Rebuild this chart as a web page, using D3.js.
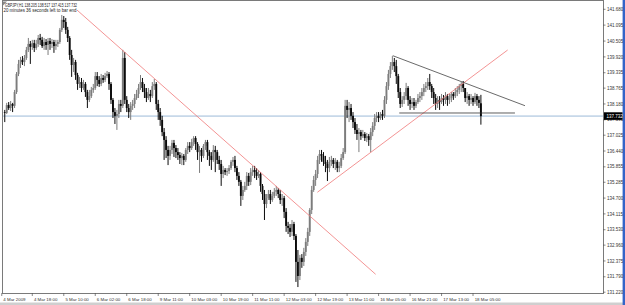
<!DOCTYPE html>
<html>
<head>
<meta charset="utf-8">
<script src="https://cdn.jsdelivr.net/npm/d3@7"></script>
<style>
  body { margin: 0; background: #fff; }
  svg { display: block; font-family: "Liberation Sans", Arial, sans-serif; }
</style>
</head>
<body>
<svg id="chart" width="625" height="305"></svg>
<script>
// GBPJPY H1, 4 Mar 2009 - 18 Mar 2009
const symbol = "GBPJPY,H1";
const timerText = "20 minutes 36 seconds left to bar end";

const opens = [
  137.88,137.85,138.14,138.03,138.18,138.11,138.62,139.29,139.66,139.81,
  139.73,139.88,140.18,140.40,140.29,140.43,140.25,140.40,140.62,140.55,
  140.32,140.47,140.36,140.51,140.40,140.47,140.32,140.40,140.47,140.92,
  141.29,141.21,140.92,140.62,139.99,139.62,139.73,139.25,138.92,138.99,
  138.77,138.92,138.62,138.33,138.47,138.70,138.77,139.21,139.07,138.92,
  139.14,139.07,139.21,139.29,138.92,138.33,137.88,137.74,137.81,138.18,
  138.11,139.88,138.33,138.03,137.88,138.11,138.18,138.40,138.55,138.77,
  138.99,138.77,138.62,138.40,138.55,138.47,138.84,138.92,138.18,137.88,
  137.59,137.14,136.85,136.48,136.26,136.48,136.74,136.55,136.40,136.29,
  136.18,136.26,136.11,136.48,136.63,136.55,136.77,136.92,136.70,136.40,
  136.48,136.26,136.63,136.77,136.40,136.26,136.11,136.48,136.40,136.11,
  135.96,135.59,135.74,135.66,135.70,135.81,136.04,136.11,135.81,135.52,
  135.30,134.78,135.00,135.15,135.52,135.30,135.66,135.74,135.66,135.52,
  135.59,135.15,134.85,134.48,134.70,134.85,134.63,134.78,134.93,135.00,
  134.85,134.63,134.70,134.19,133.67,133.60,133.45,133.74,133.30,132.34,
  131.82,132.49,132.34,132.71,133.08,133.45,134.26,135.00,135.37,135.59,
  136.11,136.33,136.26,136.04,135.96,135.81,136.04,136.11,135.96,136.04,
  135.81,135.89,136.18,136.40,138.11,137.96,138.03,137.74,137.51,137.22,
  137.07,137.14,136.99,137.07,136.92,136.99,136.85,137.14,137.37,137.66,
  137.74,137.66,137.81,137.74,138.33,138.84,139.29,139.58,139.73,139.58,
  139.21,138.62,138.18,138.33,138.47,138.77,138.33,138.18,138.25,138.11,
  138.25,138.40,138.47,138.62,138.77,138.84,138.99,138.84,138.62,138.40,
  138.18,138.33,138.25,138.40,138.33,138.47,138.33,138.40,138.55,138.47,
  138.62,138.70,138.84,138.92,138.77,138.40,138.47,138.33,138.40,138.25,
  138.47,138.33,138.205
];

const highs = [
  137.96,138.22,138.25,138.29,138.22,138.70,139.36,139.81,139.92,139.95,
  139.99,140.29,140.62,140.51,140.55,140.55,140.55,140.73,140.77,140.66,
  140.62,140.58,140.62,140.62,140.58,140.55,140.55,140.55,140.99,141.47,
  141.43,141.36,141.03,140.69,140.18,139.88,139.81,139.33,139.18,139.14,
  139.07,138.99,138.70,138.70,138.81,138.92,139.36,139.36,139.21,139.29,
  139.25,139.33,139.40,139.36,138.99,138.40,138.03,137.96,138.33,138.33,
  140.18,140.10,138.47,138.18,138.25,138.33,138.55,138.70,138.92,139.25,
  139.14,138.92,138.77,138.77,138.70,138.99,139.10,138.99,138.33,138.03,
  137.74,137.29,136.99,136.63,136.63,136.85,136.85,136.66,136.55,136.40,
  136.37,136.33,136.55,136.77,136.77,136.89,136.99,136.99,136.77,136.63,
  136.55,136.70,136.85,136.85,136.48,136.40,136.66,136.63,136.48,136.26,
  136.11,135.89,135.81,135.81,135.92,136.11,136.22,136.26,135.89,135.66,
  135.37,135.15,135.30,135.66,135.63,135.81,135.89,135.89,135.81,135.74,
  135.66,135.22,135.00,134.85,135.00,135.00,134.93,135.07,135.15,135.07,
  135.00,134.85,134.78,134.33,133.82,133.74,133.89,133.82,133.37,132.78,
  132.60,132.63,132.86,133.22,133.60,134.33,135.15,135.52,135.74,136.26,
  136.48,136.48,136.40,136.26,136.11,136.22,136.26,136.18,136.18,136.11,
  136.04,136.33,136.55,138.33,138.33,138.25,138.18,137.88,137.66,137.44,
  137.29,137.22,137.22,137.14,137.11,137.07,137.29,137.51,137.81,137.88,
  137.88,137.88,137.96,138.47,138.99,139.44,139.73,139.95,139.88,139.81,
  139.29,138.77,138.47,138.62,138.96,138.84,138.47,138.40,138.40,138.33,
  138.55,138.62,138.77,138.92,138.99,139.14,139.29,138.92,138.77,138.55,
  138.47,138.47,138.55,138.51,138.62,138.55,138.55,138.62,138.62,138.77,
  138.84,138.92,138.99,139.03,138.77,138.62,138.55,138.55,138.47,138.59,
  138.55,138.47,138.517
];

const lows = [
  137.51,137.81,137.96,137.92,137.88,138.03,138.55,139.21,139.51,139.62,
  139.58,139.81,140.10,139.66,140.18,140.10,140.18,140.29,140.36,140.25,
  140.18,140.18,139.99,140.18,140.25,140.07,140.18,140.29,140.40,140.84,
  140.99,140.77,140.47,139.81,139.18,139.36,139.07,138.70,138.77,138.62,
  138.70,138.44,138.03,138.25,138.40,138.59,138.70,138.84,138.81,138.84,
  138.96,138.99,139.14,138.70,138.18,137.66,137.44,137.22,137.66,137.88,
  138.03,138.18,137.88,137.66,137.59,137.96,138.03,138.33,138.40,138.70,
  138.62,138.40,138.25,138.33,138.25,138.40,138.70,137.96,137.59,137.37,
  136.99,136.11,136.18,135.92,136.11,136.33,136.22,136.18,136.11,135.96,
  135.92,135.92,136.04,136.33,136.40,136.48,136.63,136.48,136.11,135.63,
  136.04,136.18,136.48,136.11,135.89,135.74,136.04,135.66,135.96,135.74,
  135.15,135.44,135.55,135.52,135.59,135.74,135.89,135.66,135.37,135.15,
  134.41,134.63,134.93,135.00,135.15,135.18,135.52,135.44,135.37,135.44,
  134.93,134.63,133.89,134.33,134.63,134.48,134.56,134.70,134.78,134.70,
  134.48,134.41,133.96,133.45,133.37,133.26,133.30,133.15,131.60,131.41,
  131.67,132.12,132.19,132.56,132.93,133.30,134.11,134.93,135.15,135.44,
  135.96,136.04,135.89,135.66,135.33,135.66,135.89,135.81,135.74,135.66,
  135.66,135.81,136.11,136.33,137.66,137.51,137.59,137.29,137.07,136.85,
  136.40,136.85,136.92,136.81,136.77,136.63,136.40,136.99,137.22,137.51,
  137.51,137.59,137.59,137.66,138.18,138.70,139.14,139.44,139.36,138.92,
  138.40,138.03,138.07,138.18,138.33,138.11,137.96,138.03,137.96,138.03,
  138.18,138.25,138.33,138.47,138.62,138.70,138.70,138.40,138.18,137.96,
  138.03,137.96,138.18,138.11,138.18,138.11,138.18,138.25,138.33,138.40,
  138.47,138.55,138.62,138.62,138.25,138.18,138.11,138.18,138.11,138.18,
  138.11,138.03,137.415
];

const closes = [
  137.85,138.14,138.03,138.18,138.11,138.62,139.29,139.66,139.81,139.73,
  139.88,140.18,140.40,140.29,140.43,140.25,140.40,140.62,140.55,140.32,
  140.47,140.36,140.51,140.40,140.47,140.32,140.40,140.47,140.92,141.29,
  141.21,140.92,140.62,139.99,139.62,139.73,139.25,138.92,138.99,138.77,
  138.92,138.62,138.33,138.47,138.70,138.77,139.21,139.07,138.92,139.14,
  139.07,139.21,139.29,138.92,138.33,137.88,137.74,137.81,138.18,138.11,
  139.88,138.33,138.03,137.88,138.11,138.18,138.40,138.55,138.77,138.99,
  138.77,138.62,138.40,138.55,138.47,138.84,138.92,138.18,137.88,137.59,
  137.14,136.85,136.48,136.26,136.48,136.74,136.55,136.40,136.29,136.18,
  136.26,136.11,136.48,136.63,136.55,136.77,136.92,136.70,136.40,136.48,
  136.26,136.63,136.77,136.40,136.26,136.11,136.48,136.40,136.11,135.96,
  135.59,135.74,135.66,135.70,135.81,136.04,136.11,135.81,135.52,135.30,
  134.78,135.00,135.15,135.52,135.30,135.66,135.74,135.66,135.52,135.59,
  135.15,134.85,134.48,134.70,134.85,134.63,134.78,134.93,135.00,134.85,
  134.63,134.70,134.19,133.67,133.60,133.45,133.74,133.30,132.34,131.82,
  132.49,132.34,132.71,133.08,133.45,134.26,135.00,135.37,135.59,136.11,
  136.33,136.26,136.04,135.96,135.81,136.04,136.11,135.96,136.04,135.81,
  135.89,136.18,136.40,138.11,137.96,138.03,137.74,137.51,137.22,137.07,
  137.14,136.99,137.07,136.92,136.99,136.85,137.14,137.37,137.66,137.74,
  137.66,137.81,137.74,138.33,138.84,139.29,139.58,139.73,139.58,139.21,
  138.62,138.18,138.33,138.47,138.77,138.33,138.18,138.25,138.11,138.25,
  138.40,138.47,138.62,138.77,138.84,138.99,138.84,138.62,138.40,138.18,
  138.33,138.25,138.40,138.33,138.47,138.33,138.40,138.55,138.47,138.62,
  138.70,138.84,138.92,138.77,138.40,138.47,138.33,138.40,138.25,138.47,
  138.33,138.22,137.732
];

const priceTicks = [
  141.680,141.095,140.505,139.920,139.335,138.765,138.180,137.595,137.025,136.440,
  135.855,135.285,134.700,134.115,133.530,132.960,132.375,131.790,131.220
];

const timeLabels = [
  "4 Mar 2009","4 Mar 18:00","5 Mar 10:00","6 Mar 02:00","6 Mar 18:00","9 Mar 11:00",
  "10 Mar 03:00","10 Mar 19:00","11 Mar 11:00","12 Mar 03:00","12 Mar 19:00",
  "13 Mar 11:00","16 Mar 05:00","16 Mar 21:00","17 Mar 13:00","18 Mar 05:00"
];
const timeLabelBars = [0,14,30,46,62,78,94,110,126,142,158,174,190,206,222,238];

// trend lines drawn on the chart: [bar index, price] end points
const downTrend   = [[36.7, 141.654], [188.5, 131.883]];
const upTrend     = [[158.9, 134.915], [255.6, 140.175]];
const triangleTop = [[197.2, 139.965], [264.4, 138.116]];
const triangleBot = [[200.5, 137.846], [259.3, 137.846]];

const n = closes.length;
const last = n - 1;

const svg = d3.select("#chart");
const plot = { left: 3, right: 603, top: 0, bottom: 293 };

const x = d3.scaleLinear().domain([0, 242]).range([4.75, 480.9]);
const y = d3.scaleLinear().domain([131.220, 141.680]).range([292.2, 9.3]);

svg.append("defs").append("clipPath").attr("id", "plotclip")
  .append("rect")
  .attr("x", plot.left).attr("y", plot.top)
  .attr("width", plot.right - plot.left).attr("height", plot.bottom - plot.top);

// window bits
svg.append("rect").attr("x", 0).attr("y", 302.5).attr("width", 625).attr("height", 2.5).attr("fill", "#cfcfcf");
svg.append("rect").attr("x", 622.6).attr("y", 0).attr("width", 2.4).attr("height", 305).attr("fill", "#3464c8");

// frame
svg.append("rect")
  .attr("x", plot.left - 0.5).attr("y", plot.top + 0.5)
  .attr("width", plot.right - plot.left + 1).attr("height", plot.bottom - plot.top)
  .attr("fill", "none").attr("stroke", "#7a7a7a").attr("stroke-width", 1);

const g = svg.append("g").attr("clip-path", "url(#plotclip)");

// current bid line
g.append("line")
  .attr("x1", plot.left).attr("x2", plot.right)
  .attr("y1", y(closes[last])).attr("y2", y(closes[last]))
  .attr("stroke", "#9cbad8").attr("stroke-width", 1);

// candles
const candles = g.selectAll("g.candle").data(d3.range(n)).enter()
  .append("g").attr("class", "candle");

const candleColor = i => closes[i] >= opens[i] ? "#7c7c7c" : "#0a0a0a";

candles.append("line")
  .attr("x1", i => x(i)).attr("x2", i => x(i))
  .attr("y1", i => y(highs[i])).attr("y2", i => y(lows[i]))
  .attr("stroke", candleColor).attr("stroke-width", 1);

candles.append("rect")
  .attr("x", i => x(i) - 0.95)
  .attr("width", 1.9)
  .attr("y", i => y(Math.max(opens[i], closes[i])))
  .attr("height", i => Math.max(0.6, Math.abs(y(opens[i]) - y(closes[i]))))
  .attr("fill", candleColor);

// trend lines
const lineGen = d3.line().x(d => x(d[0])).y(d => y(d[1]));
[[downTrend, "#f07878"], [upTrend, "#f07878"], [triangleTop, "#444"], [triangleBot, "#333"]]
  .forEach(([pts, col]) => {
    g.append("path").attr("d", lineGen(pts))
      .attr("fill", "none").attr("stroke", col).attr("stroke-width", 0.8);
  });

// price axis
const yAxis = svg.append("g").attr("font-size", 4.5).attr("fill", "#333");
priceTicks.forEach(p => {
  yAxis.append("line")
    .attr("x1", plot.right).attr("x2", plot.right + 2.5)
    .attr("y1", y(p)).attr("y2", y(p))
    .attr("stroke", "#555").attr("stroke-width", 0.7);
  yAxis.append("text")
    .attr("x", plot.right + 4).attr("y", y(p) + 1.6)
    .text(p.toFixed(3));
});

// last price box
svg.append("rect")
  .attr("x", plot.right + 1).attr("y", y(closes[last]) - 3.8)
  .attr("width", 18.5).attr("height", 7.6).attr("fill", "#000");
svg.append("text")
  .attr("x", plot.right + 3.5).attr("y", y(closes[last]) + 1.7)
  .attr("font-size", 4.5).attr("fill", "#fff")
  .text(closes[last].toFixed(3));

// time axis
const xAxis = svg.append("g").attr("font-size", 4.4).attr("fill", "#333");
timeLabels.forEach((lab, k) => {
  const bx = k === 0 ? x(timeLabelBars[k]) - 3 : x(timeLabelBars[k]);
  xAxis.append("line")
    .attr("x1", bx).attr("x2", bx)
    .attr("y1", plot.bottom).attr("y2", plot.bottom + 3)
    .attr("stroke", "#555").attr("stroke-width", 0.7);
  xAxis.append("text").attr("x", bx + 1.6).attr("y", 300.6).text(lab);
});

// header
const header = [symbol, opens[last].toFixed(3), highs[last].toFixed(3), lows[last].toFixed(3), closes[last].toFixed(3)].join(" ");
svg.append("path").attr("d", "M3,1.5 L7,1.5 L3,5.5 Z").attr("fill", "#888");
svg.append("text").attr("x", 5).attr("y", 7)
  .attr("font-size", 4.7).attr("fill", "#222")
  .attr("textLength", 72).attr("lengthAdjust", "spacingAndGlyphs").text(header);
svg.append("text").attr("x", 3.5).attr("y", 12.2)
  .attr("font-size", 4.7).attr("fill", "#222")
  .attr("textLength", 73).attr("lengthAdjust", "spacingAndGlyphs").text(timerText);
</script>
</body>
</html>
